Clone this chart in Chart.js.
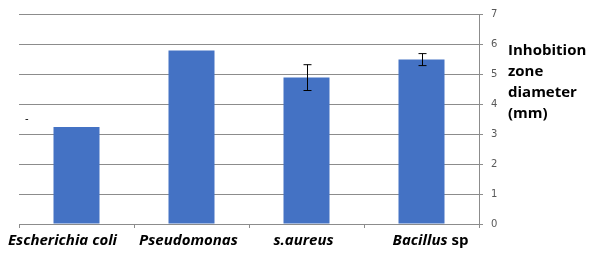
<!DOCTYPE html>
<html lang="en">
<head>
<meta charset="UTF-8" />
<title>Inhibition zone diameter</title>
<script src="https://cdn.jsdelivr.net/npm/chart.js"></script>
<style>
  * { margin: 0; padding: 0; box-sizing: border-box; }
  body { background: #ffffff; width: 597px; height: 255px; overflow: hidden; }
  #wrap { position: relative; width: 597px; height: 255px; }
</style>
</head>
<body>
<div id="wrap"><canvas id="barChart" width="597" height="255"></canvas></div>
<script>
// data
const categories = ['Escherichia coli', 'Pseudomonas', 's.aureus', 'Bacillus sp'];
const italicParts = ['Escherichia coli', 'Pseudomonas', 's.aureus', 'Bacillus'];
const plainParts = ['', '', '', ' sp'];
const zoneValues = [3.23, 5.78, 4.88, 5.48];
const errorValues = [0, 0, 0.43, 0.2];
const yTicks = [0, 1, 2, 3, 4, 5, 6, 7];
const yTitleLines = ['Inhobition', 'zone', 'diameter', '(mm)'];

const BLUE = '#4472C4';
const GRID = '#8c8c8c';
const LABEL_FONT = '"Open Sans", Lato, sans-serif';

// error bars on top of the bars
const errorBars = {
  id: 'errorBars',
  afterDatasetsDraw(chart) {
    const ctx = chart.ctx;
    const y = chart.scales.y;
    const meta = chart.getDatasetMeta(0);
    ctx.save();
    ctx.strokeStyle = '#000';
    ctx.lineWidth = 1;
    meta.data.forEach((bar, i) => {
      const e = errorValues[i];
      if (!e) return;
      const x = Math.round(bar.x) + 0.5;
      const top = y.getPixelForValue(zoneValues[i] + e);
      const bot = y.getPixelForValue(zoneValues[i] - e);
      ctx.beginPath();
      ctx.moveTo(x, top); ctx.lineTo(x, bot);
      ctx.moveTo(x - 4, top); ctx.lineTo(x + 4, top);
      ctx.moveTo(x - 4, bot); ctx.lineTo(x + 4, bot);
      ctx.stroke();
    });
    ctx.restore();
  }
};

// category labels (italic + upright part) and the axis title on the right
const labelsAndTitle = {
  id: 'labelsAndTitle',
  afterDraw(chart) {
    const ctx = chart.ctx;
    const x = chart.scales.x;
    const shift = [-14, -3, -3, 9];
    ctx.save();
    ctx.fillStyle = '#000';
    ctx.textBaseline = 'middle';
    categories.forEach((c, i) => {
      const itFont = 'italic bold 15px ' + LABEL_FONT;
      const upFont = 'bold 15px ' + LABEL_FONT;
      ctx.font = itFont;
      const w1 = ctx.measureText(italicParts[i]).width;
      ctx.font = upFont;
      const w2 = ctx.measureText(plainParts[i]).width;
      let cx = x.getPixelForValue(i) + shift[i] - (w1 + w2) / 2;
      ctx.textAlign = 'left';
      ctx.font = itFont;
      ctx.fillText(italicParts[i], cx, 241);
      ctx.font = upFont;
      ctx.fillText(plainParts[i], cx + w1, 241);
    });
    ctx.font = 'bold 15px ' + LABEL_FONT;
    yTitleLines.forEach((t, i) => {
      ctx.fillText(t, 508, 51 + i * 21);
    });
    // stray dash near the left edge
    ctx.font = '10px "DejaVu Sans", sans-serif';
    ctx.fillText('-', 25, 119);
    ctx.restore();
  }
};

new Chart(document.getElementById('barChart'), {
  type: 'bar',
  data: {
    labels: categories,
    datasets: [{
      data: zoneValues,
      backgroundColor: BLUE,
      borderWidth: 0,
      categoryPercentage: 0.4,
      barPercentage: 1
    }]
  },
  options: {
    responsive: false,
    animation: false,
    devicePixelRatio: 1,
    layout: { padding: { left: 19, top: 12, right: 0, bottom: 0 } },
    plugins: { legend: { display: false }, tooltip: { enabled: false } },
    scales: {
      x: {
        offset: true,
        grid: { offset: true, drawOnChartArea: false, color: GRID, tickLength: 4 },
        border: { color: GRID },
        ticks: { display: false },
        afterFit(s) { s.height = 31; }
      },
      y: {
        position: 'right',
        min: 0,
        max: 7,
        afterBuildTicks(s) { s.ticks = yTicks.map(v => ({ value: v })); },
        grid: { color: GRID, tickLength: 4 },
        border: { color: GRID },
        ticks: {
          color: '#595959',
          padding: 8,
          font: { family: '"DejaVu Sans", sans-serif', size: 10 }
        },
        afterFit(s) { s.width = 118; }
      }
    }
  },
  plugins: [errorBars, labelsAndTitle]
});
</script>
</body>
</html>
